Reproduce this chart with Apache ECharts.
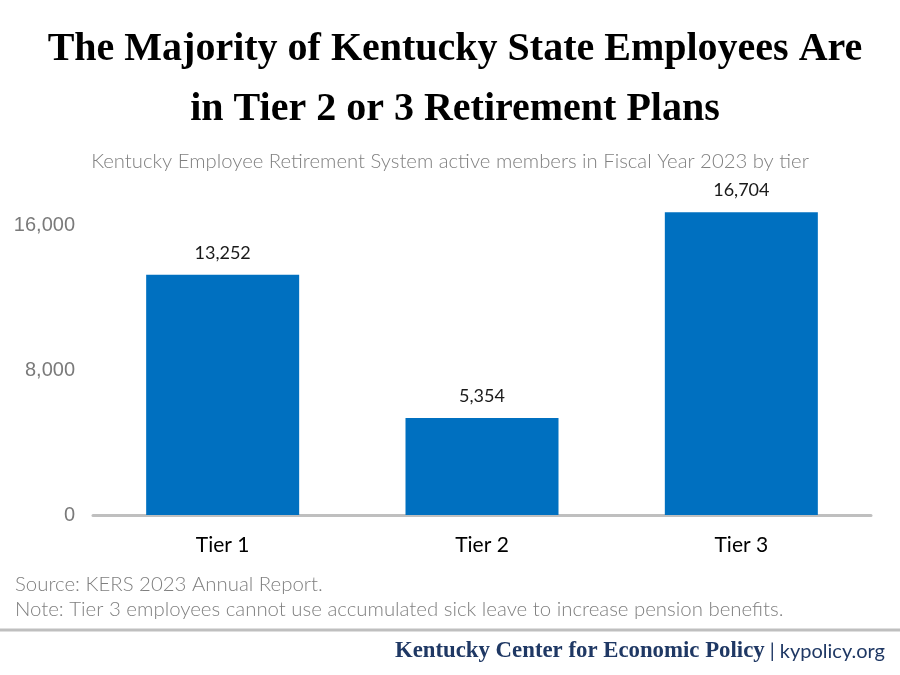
<!DOCTYPE html>
<html>
<head>
<meta charset="utf-8">
<script src="https://cdn.jsdelivr.net/npm/echarts@6/dist/echarts.min.js"></script>
<style>html,body{margin:0;padding:0;background:#fff;}#c{width:900px;height:675px;}</style>
</head>
<body>
<div id="c"></div>
<script>
const categories = ['Tier 1', 'Tier 2', 'Tier 3'];
const members = [13252, 5354, 16704];
const yTicks = [0, 8000, 16000];

const chart = echarts.init(document.getElementById('c'));
chart.setOption({
  backgroundColor: '#ffffff',
  animation: false,
  title: [
    {
      text: 'The Majority of Kentucky State Employees Are\nin Tier 2 or 3 Retirement Plans',
      left: 450, top: 15, textAlign: 'center',
      textStyle: { fontFamily: 'Liberation Serif', fontWeight: 'bold', fontSize: 40, color: '#000', lineHeight: 60 }
    },
    {
      text: 'Kentucky Employee Retirement System active members in Fiscal Year 2023 by tier',
      left: 'center', top: 146,
      textStyle: { fontFamily: 'Lato', fontWeight: 300, fontSize: 20.3, color: '#808080' }
    },
    {
      text: 'Source: KERS 2023 Annual Report.\nNote: Tier 3 employees cannot use accumulated sick leave to increase pension benefits.',
      left: 15, top: 572, padding: 0,
      textStyle: { fontFamily: 'Lato', fontWeight: 300, fontSize: 20.4, color: '#7f7f7f', lineHeight: 25 }
    },
    {
      text: '{a|Kentucky Center for Economic Policy} {b|| kypolicy.org}',
      right: 15, top: 640, padding: 0,
      textStyle: {
        rich: {
          a: { fontFamily: 'Liberation Serif', fontWeight: 'bold', fontSize: 22.8, color: '#1F3864' },
          b: { fontFamily: 'Lato', fontWeight: 'normal', fontSize: 20, color: '#1F3864' }
        }
      }
    }
  ],
  graphic: [
    { type: 'line', shape: { x1: 0, y1: 630, x2: 900, y2: 630 }, style: { stroke: '#bfbfbf', lineWidth: 3 } }
  ],
  grid: { left: 93, right: 29, top: 80, bottom: 160, containLabel: false },
  xAxis: {
    type: 'category',
    data: categories,
    axisLine: { lineStyle: { color: '#bfbfbf', width: 3 } },
    axisTick: { show: false },
    axisLabel: { fontFamily: 'Lato', fontSize: 21, color: '#000', margin: 20 }
  },
  yAxis: {
    type: 'value',
    min: 0, max: 24000, interval: 8000,
    splitLine: { show: false },
    axisLine: { show: false },
    axisTick: { show: false },
    axisLabel: {
      showMaxLabel: false,
      fontFamily: 'Liberation Sans', fontSize: 20, color: '#7a7a7a', margin: 18,
      formatter: v => yTicks.includes(v) ? v.toLocaleString('en-US') : ''
    }
  },
  series: [{
    type: 'bar',
    data: members,
    barWidth: '59%',
    itemStyle: { color: '#0070C0' },
    label: {
      show: true, position: 'top', distance: 13,
      fontFamily: 'Lato', fontSize: 18, color: '#1a1a1a',
      formatter: p => p.value.toLocaleString('en-US')
    }
  }]
});
</script>
</body>
</html>
